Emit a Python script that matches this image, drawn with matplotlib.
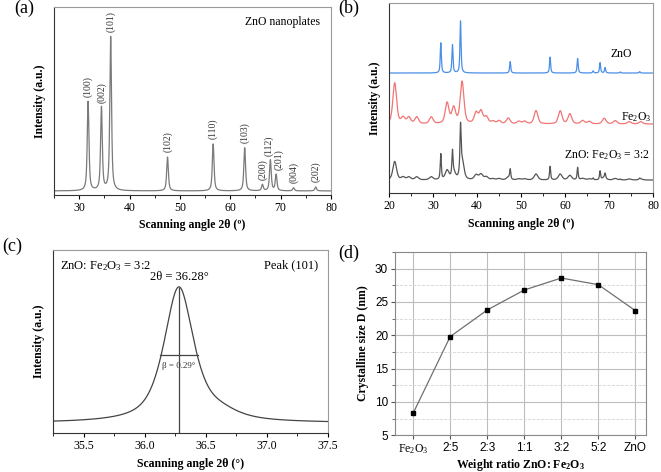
import numpy as np
import matplotlib.pyplot as plt
from matplotlib.ticker import MultipleLocator

plt.rcParams['font.family'] = 'Liberation Serif'
plt.rcParams['mathtext.fontset'] = 'custom'
plt.rcParams['mathtext.rm'] = 'Liberation Serif'
plt.rcParams['mathtext.it'] = 'Liberation Serif:italic'
plt.rcParams['mathtext.bf'] = 'Liberation Serif:bold'

# --- (a) ZnO reflections (2theta, relative intensity)
zno_hkl = ['(100)', '(002)', '(101)', '(102)', '(110)', '(103)',
           '(200)', '(112)', '(201)', '(004)', '(202)']
zno_pos = [31.77, 34.42, 36.25, 47.54, 56.60, 62.86, 66.38, 67.96, 69.10, 72.56, 76.95]
zno_int = [58, 54, 100, 22, 30.5, 28, 4, 20, 10.5, 2, 2.6]

# --- (b) Fe2O3 reflections / bumps (2theta, height)
fe_pos = [21.3, 23.2, 24.5, 26.3, 29.6, 33.2, 34.7, 36.6, 39.8, 40.9, 42.1, 43.6,
          45.0, 47.1, 49.5, 50.8, 53.4, 58.9, 61.1, 64.0, 65.5, 68.9, 71.4, 74.6, 77.2]
fe_int = [41, 6, 6.3, 6.7, 6.7, 20.7, 15.7, 42, 10.7, 12.3, 6.7, 2.5,
          3, 5.7, 2.5, 2.5, 13.3, 13, 10, 3.3, 2.5, 5.7, 3.3, 2.3, 2.3]
# 3:2 composite: ZnO and Fe2O3 contributions
mix_zno_scale = 0.44
mix_fe_scale = 0.45

# --- (c) peak (101) of ZnO:Fe2O3 = 3:2
c_pos = [36.28, 36.62]
c_int = [100, 5]
c_fwhm = [0.29, 0.35]
c_center = 36.28
c_beta = 0.29

# --- (d) crystallite size
ratios = ['Fe$_2$O$_3$', '2:5', '2:3', '1:1', '3:2', '5:2', 'ZnO']
size_nm = [8.3, 19.8, 23.8, 26.8, 28.6, 27.6, 23.7]


def pattern(x, pos, height, fwhm, eta=0.7):
    # pseudo-voigt sum of the listed reflections
    x = np.asarray(x)
    y = np.zeros_like(x)
    fwhm = np.broadcast_to(fwhm, (len(pos),))
    for p, h, w in zip(pos, height, fwhm):
        d = (x - p) / (w / 2)
        y += h * (eta / (1 + d**2) + (1 - eta) * np.exp(-np.log(2) * d**2))
    return y


def style_axes(ax):
    for s in ['left', 'bottom']:
        ax.spines[s].set_color('#333333')
    for s in ['top', 'right']:
        ax.spines[s].set_color('#9a9a9a')
    ax.tick_params(which='both', direction='out', labelsize=8.5, pad=2)
    ax.tick_params(which='major', length=3)
    ax.tick_params(which='minor', length=2)


fig = plt.figure(figsize=(6.61, 4.72), dpi=100)

# ---------------- (a)
ax1 = fig.add_axes([0.0817, 0.587, 0.4191, 0.398])
xa = np.linspace(25, 80, 5501)
ax1.plot(xa, pattern(xa, zno_pos, zno_int, 0.4), color='#7a7a7a', lw=0.9)
ax1.set_xlim(25, 80)
ax1.set_ylim(-2.6, 119.5)
ax1.set_yticks([])
ax1.xaxis.set_major_locator(MultipleLocator(10))
ax1.xaxis.set_minor_locator(MultipleLocator(5))
# crowded (112)/(201) labels are nudged apart
label_shift = {'(112)': -0.3, '(201)': 0.55}
for p, h, lab in zip(zno_pos, zno_int, zno_hkl):
    ax1.text(p + label_shift.get(lab, 0), h + 3, lab, rotation=90, ha='center',
             va='bottom', fontsize=7, color='#333333')
ax1.text(0.96, 0.95, 'ZnO nanoplates', transform=ax1.transAxes, ha='right', va='top',
         fontsize=8.5)
ax1.set_xlabel('Scanning angle 2θ (º)', fontweight='bold', fontsize=8.5, labelpad=4)
ax1.set_ylabel('Intensity (a.u.)', fontweight='bold', fontsize=8.5, labelpad=6)
style_axes(ax1)

# ---------------- (b)
ax2 = fig.add_axes([0.5885, 0.591, 0.3995, 0.4026])
xb = np.linspace(20, 80, 6001)
zno_b = pattern(xb, zno_pos, np.array(zno_int) * 0.52, 0.3) + 120
fe_b = pattern(xb, fe_pos, fe_int, 1.0, eta=0.5) + 69
mix_b = (pattern(xb, zno_pos, np.array(zno_int) * mix_zno_scale, 0.3)
         + pattern(xb, fe_pos, np.array(fe_int) * mix_fe_scale, 1.0, eta=0.5) + 13)
ax2.plot(xb, zno_b, color='#4a8fe7', lw=0.9)
ax2.plot(xb, fe_b, color='#f07575', lw=0.9)
ax2.plot(xb, mix_b, color='#555555', lw=0.9)
ax2.set_xlim(20, 80)
ax2.set_ylim(0, 190)
ax2.set_yticks([])
ax2.xaxis.set_major_locator(MultipleLocator(10))
ax2.xaxis.set_minor_locator(MultipleLocator(5))
ax2.text(72.8, 139, 'ZnO', ha='center', va='center', fontsize=8.5)
ax2.text(76.2, 76, 'Fe$_2$O$_3$', ha='center', va='center', fontsize=8.5)
ax2.text(69.5, 38, 'ZnO: Fe$_2$O$_3$ = 3:2', ha='center', va='center', fontsize=8.5)
ax2.set_xlabel('Scanning angle 2θ (º)', fontweight='bold', fontsize=8.5, labelpad=4)
ax2.set_ylabel('Intensity (a.u.)', fontweight='bold', fontsize=8.5, labelpad=6)
style_axes(ax2)

# ---------------- (c)
ax3 = fig.add_axes([0.0802, 0.0826, 0.416, 0.3874])
xc = np.linspace(35.25, 37.5, 2251)
ax3.plot(xc, pattern(xc, c_pos, c_int, c_fwhm), color='#444444', lw=0.9)
ax3.set_xlim(35.25, 37.5)
ax3.set_ylim(-7.4, 128)
ax3.set_yticks([])
ax3.xaxis.set_major_locator(MultipleLocator(0.5))
ax3.xaxis.set_minor_locator(MultipleLocator(0.25))
ax3.xaxis.set_major_formatter('{x:.1f}')
ax3.plot([c_center, c_center], [-7.4, c_int[0]], color='#444444', lw=0.9)
ax3.plot([c_center - c_beta / 2 - 0.01, c_center + c_beta / 2 + 0.01], [50, 50],
         color='#444444', lw=0.9)
ax3.text(c_center, 45, 'β = 0.29°', ha='center', va='top', fontsize=6.5, color='#333333')
ax3.text(c_center, 104, '2θ = 36.28°', ha='center', va='bottom', fontsize=9)
ax3.text(0.025, 0.95, 'ZnO: Fe$_2$O$_3$ = 3:2', transform=ax3.transAxes, ha='left',
         va='top', fontsize=9)
ax3.text(0.965, 0.95, 'Peak (101)', transform=ax3.transAxes, ha='right', va='top',
         fontsize=9)
ax3.set_xlabel('Scanning angle 2θ (°)', fontweight='bold', fontsize=8.5, labelpad=4)
ax3.set_ylabel('Intensity (a.u.)', fontweight='bold', fontsize=8.5, labelpad=6)
style_axes(ax3)

# ---------------- (d)
ax4 = fig.add_axes([0.5976, 0.078, 0.3804, 0.388])
xd = np.arange(len(ratios))
ax4.plot(xd, size_nm, color='#707070', lw=0.9, marker='s', ms=3.5,
         mfc='black', mec='black', zorder=3)
ax4.set_xlim(-0.49, 6.3)
ax4.set_ylim(5, 32.5)
ax4.set_xticks(xd)
ax4.set_xticklabels(ratios, family='Liberation Sans', fontsize=8.5)
ax4.get_xticklabels()[0].set_fontfamily('Liberation Serif')
ax4.get_xticklabels()[0].set_fontsize(10)
ax4.yaxis.set_major_locator(MultipleLocator(5))
ax4.yaxis.set_minor_locator(MultipleLocator(2.5))
for t in ax4.get_yticklabels():
    t.set_fontfamily('Liberation Sans')
ax4.grid(True, which='major', color='#bdbdbd', lw=0.8)
ax4.grid(True, which='minor', axis='y', color='#d5d5d5', lw=0.6, ls='--')
ax4.set_axisbelow(True)
for s in ax4.spines.values():
    s.set_color('#888888')
ax4.tick_params(which='both', direction='out', labelsize=8.5, pad=2, color='#555555')
ax4.tick_params(which='major', length=3)
ax4.tick_params(which='minor', length=2)
ax4.set_xlabel('Weight ratio ZnO: Fe$_\\mathbf{2}$O$_\\mathbf{3}$', fontweight='bold',
               fontsize=8.5, labelpad=1)
ax4.set_ylabel('Crystalline size D (nm)', fontweight='bold', fontsize=8.5, labelpad=4)

# panel letters
fig.text(0.022, 0.983, '(a)', fontsize=13, va='center')
fig.text(0.512, 0.983, '(b)', fontsize=13, va='center')
fig.text(0.003, 0.478, '(c)', fontsize=13, va='center')
fig.text(0.512, 0.463, '(d)', fontsize=13, va='center')

plt.savefig('out.png', dpi=100)
